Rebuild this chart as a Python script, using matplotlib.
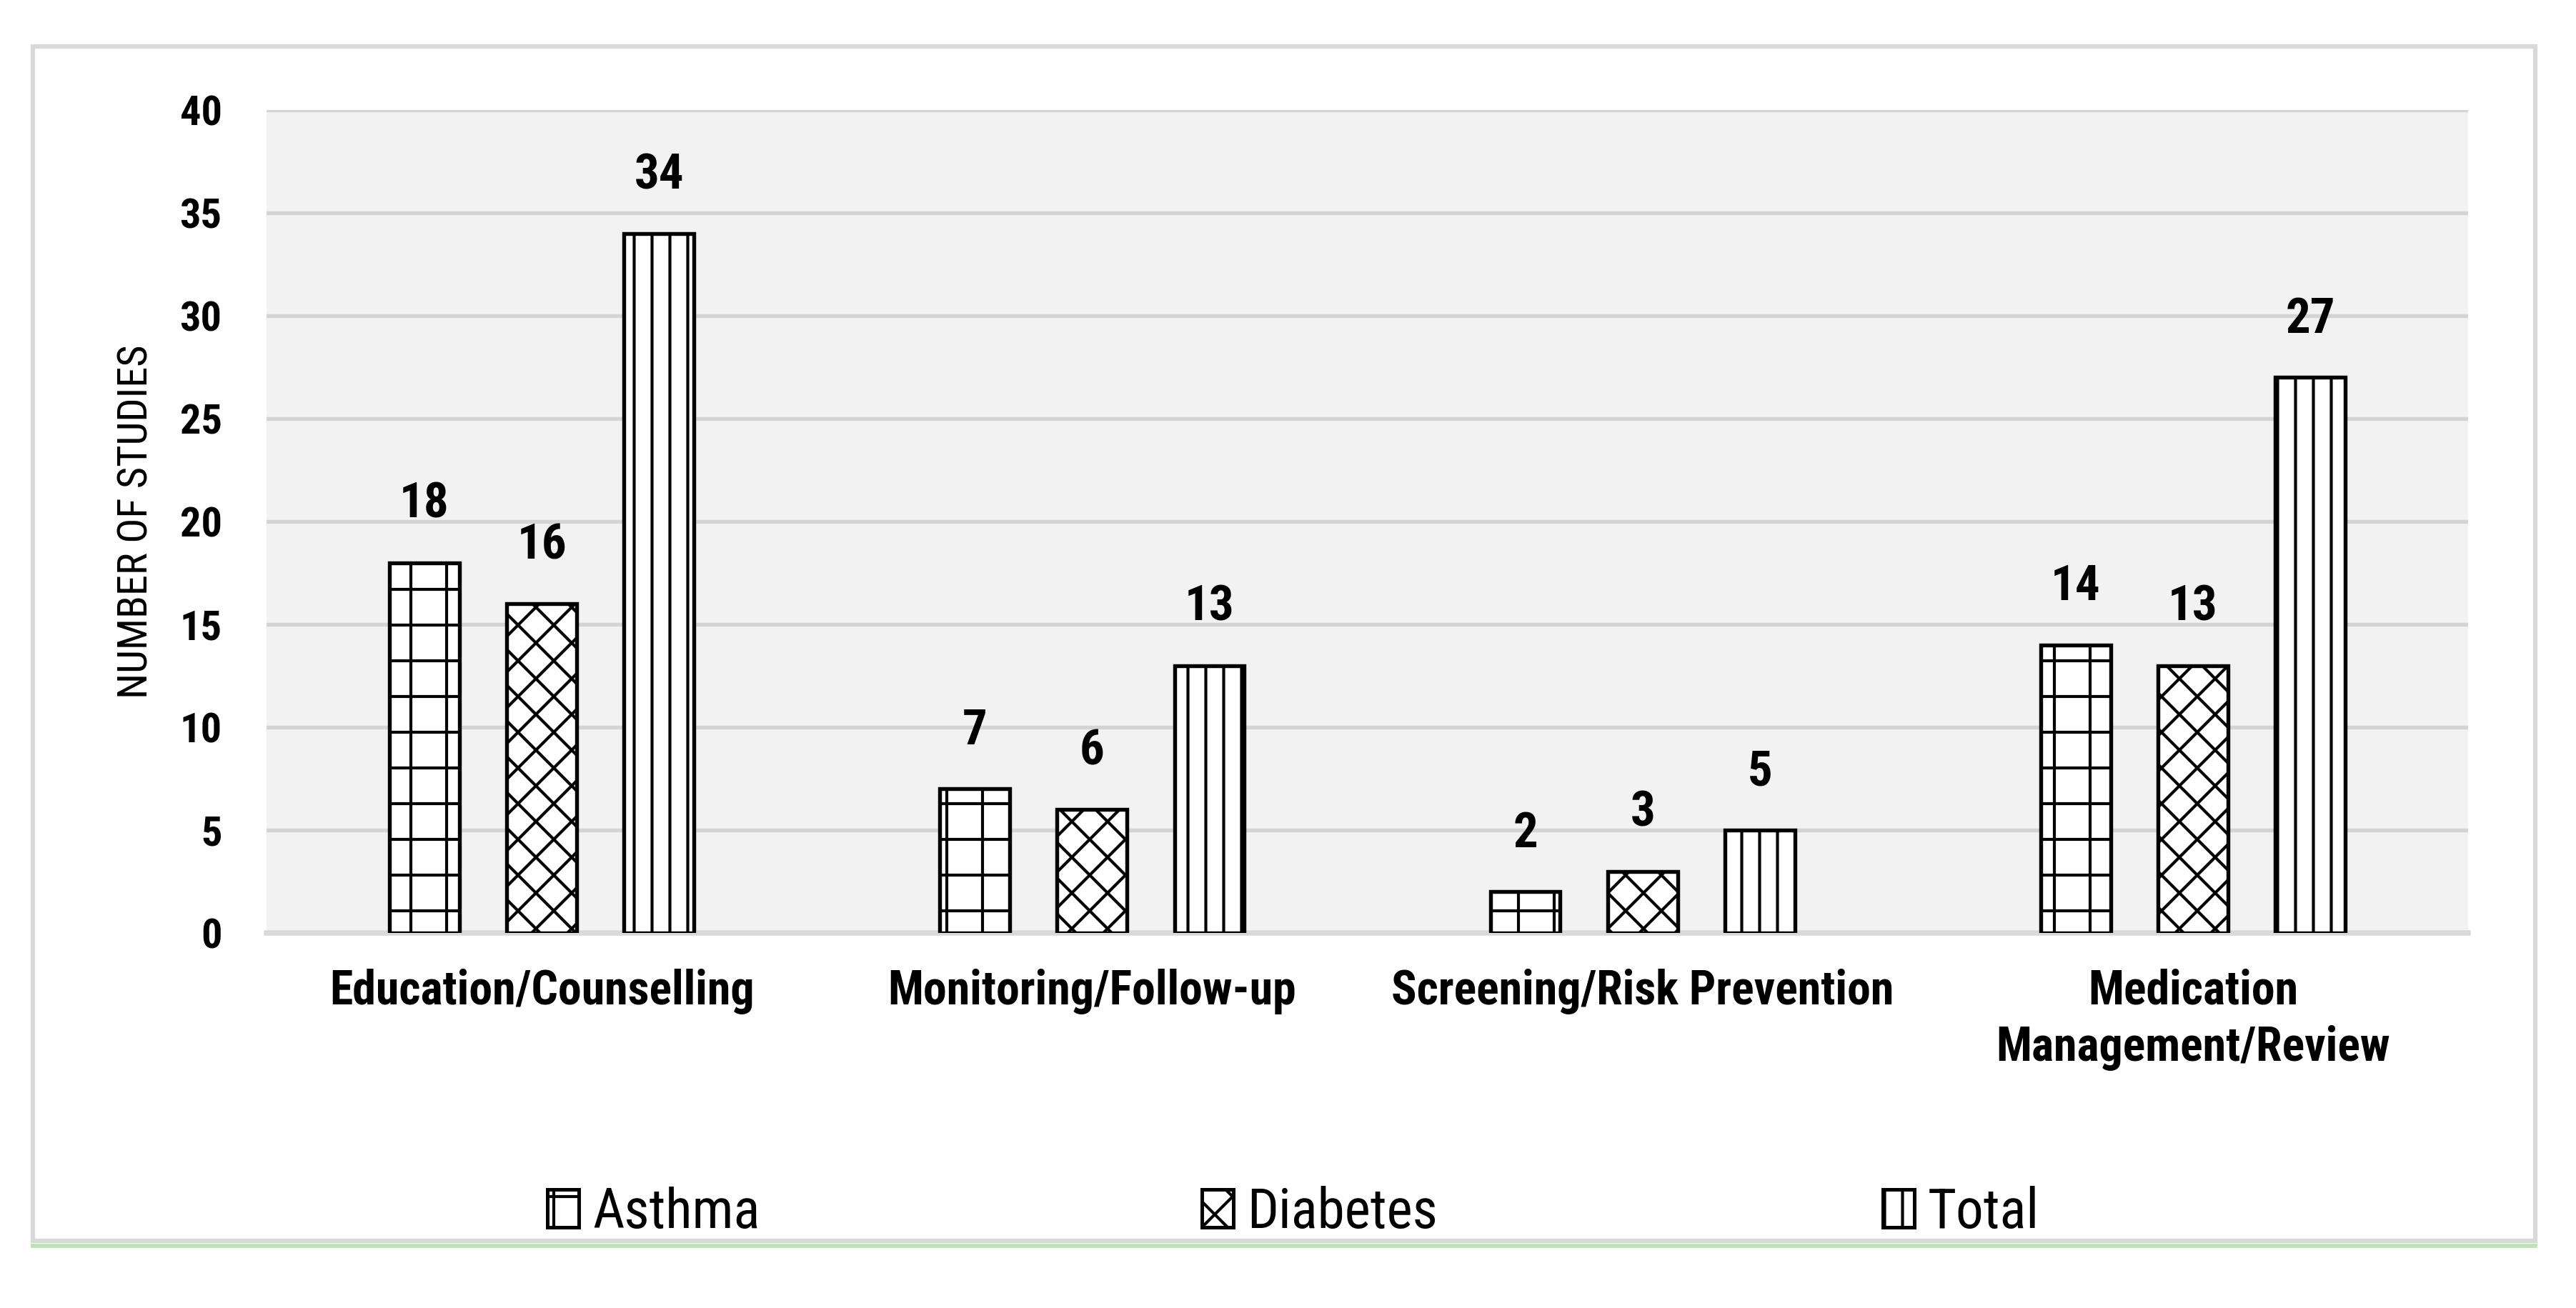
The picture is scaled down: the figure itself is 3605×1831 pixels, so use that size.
import numpy as np
import matplotlib.pyplot as plt
from matplotlib import font_manager
from matplotlib.patches import Rectangle, Patch
from matplotlib.lines import Line2D

# narrow-ish sans to stand in for the condensed Calibri of the original
have = {f.name for f in font_manager.fontManager.ttflist}
fam = [f for f in ['Liberation Sans Narrow', 'Roboto Condensed', 'Lato', 'Open Sans'] if f in have]
plt.rcParams['font.family'] = fam[:1] + ['DejaVu Sans']
plt.rcParams['hatch.linewidth'] = 1.0
plt.rcParams['hatch.color'] = 'black'

# data
categories = ['Education/Counselling', 'Monitoring/Follow-up',
              'Screening/Risk Prevention', 'Medication\nManagement/Review']
series = ['Asthma', 'Diabetes', 'Total']
asthma = [18, 7, 2, 14]
diabetes = [16, 6, 3, 13]
total = [34, 13, 5, 27]
yticks = [0, 5, 10, 15, 20, 25, 30, 35, 40]

W, H = 3605, 1831
fig = plt.figure(figsize=(W / 300, H / 300), dpi=300)
ax = fig.add_axes([373 / W, 1 - 1306 / H, (3454 - 373) / W, (1306 - 154) / H])
ax.set_facecolor('#F2F2F2')

# outer chart frame + green line under it
fig.add_artist(Rectangle((46 / W, 1 - 1737 / H), (3548 - 46) / W, (1737 - 65) / H,
                         transform=fig.transFigure, fill=False,
                         edgecolor='#D9D9D9', linewidth=1.5))
fig.add_artist(Line2D([46 / W, 3548 / W], [1 - 1744 / H, 1 - 1744 / H],
                      transform=fig.transFigure, color='#BDE2B3', linewidth=1.4))

x = np.arange(len(categories))
width = 0.127
step = 0.213
hatches = ['+', 'xx', '||']
for i, (vals, name) in enumerate(zip([asthma, diabetes, total], series)):
    bars = ax.bar(x + (i - 1) * step, vals, width, color='white', edgecolor='black',
                  linewidth=1.3, hatch=hatches[i], label=name, zorder=3)
    for b, v in zip(bars, vals):
        ax.annotate(str(v), (b.get_x() + b.get_width() / 2, v),
                    xytext=(0, 19.5), textcoords='offset points',
                    ha='center', va='center', fontsize=16.5, fontweight='bold')

ax.set_xlim(-0.5, len(categories) - 0.5)
ax.set_ylim(0, 40)
ax.set_yticks(yticks)
ax.set_yticklabels([str(t) for t in yticks], fontsize=14, fontweight='bold')
ax.set_xticks(x)
ax.set_xticklabels(categories, fontsize=15.8, fontweight='bold', linespacing=1.3)
ax.tick_params(axis='both', length=0)
ax.tick_params(axis='x', pad=12)
ax.tick_params(axis='y', pad=15)
ax.grid(axis='y', color='#D4D4D4', linewidth=1.3, zorder=0)
ax.set_axisbelow(True)
for s in ['top', 'right', 'left']:
    ax.spines[s].set_visible(False)
ax.spines['bottom'].set_color('#D9D9D9')
ax.spines['bottom'].set_linewidth(1.8)
ax.set_ylabel('NUMBER OF STUDIES', fontsize=14, labelpad=8)

# legend entries placed one by one, as in the original (spread across the width)
legend_x = [766, 1682, 2635]
for h, name, lx in zip(hatches, series, legend_x):
    hd = Patch(facecolor='white', edgecolor='black', hatch=h, linewidth=1.2)
    fig.legend([hd], [name], loc='center left', bbox_to_anchor=(lx / W, 1 - 1697 / H),
               frameon=False, fontsize=18.5, handlelength=0.57, handleheight=0.68,
               handletextpad=0.25, borderpad=0, borderaxespad=0)

plt.savefig('out.png', dpi=300)
